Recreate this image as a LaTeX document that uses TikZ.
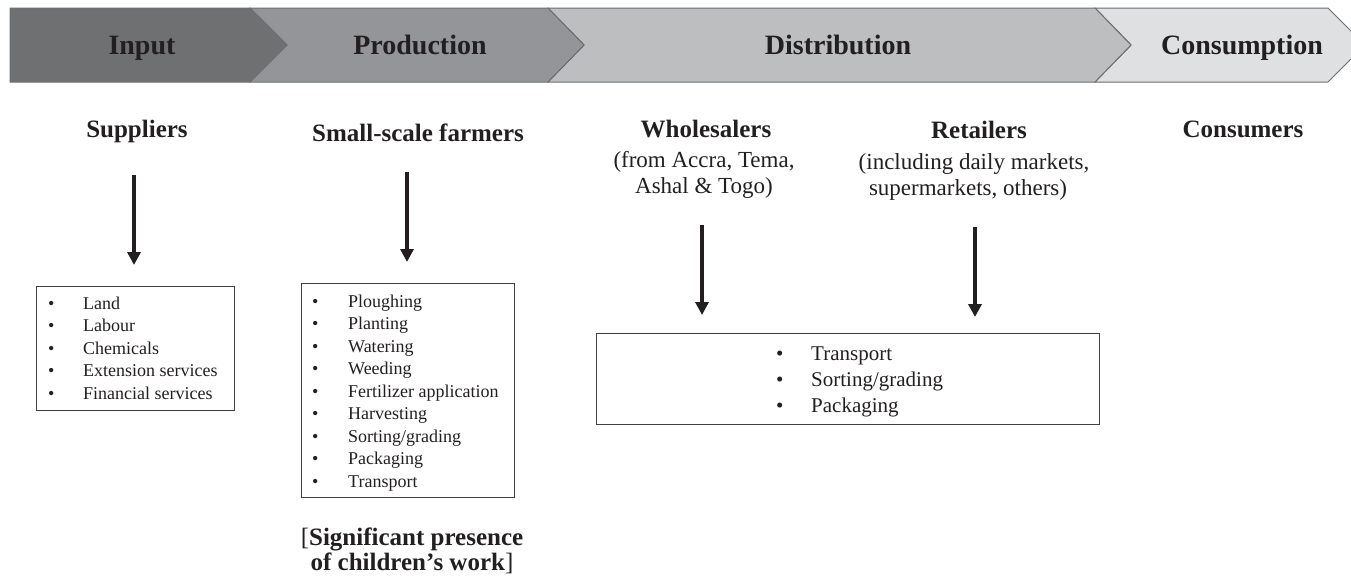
\documentclass[tikz,border=0pt]{standalone}
\usepackage{fontspec}
\setmainfont{Liberation Serif}
\usetikzlibrary{arrows.meta}
\definecolor{txt}{HTML}{231F20}
\definecolor{cin}{HTML}{6F7072}
\definecolor{cprod}{HTML}{939598}
\definecolor{cdist}{HTML}{BCBEC0}
\definecolor{ccons}{HTML}{DFE0E1}
\definecolor{edge}{HTML}{6D6E71}
\begin{document}
\begin{tikzpicture}[x=1pt,y=-1pt,
  chev/.style={draw=edge, line width=1pt, line join=miter},
  bann/.style={font=\fontsize{28}{32}\selectfont\bfseries, text=txt, anchor=base, inner sep=0pt},
  head/.style={font=\fontsize{25}{30}\selectfont\bfseries, text=txt, anchor=base, inner sep=0pt},
  sub/.style={font=\fontsize{23}{27}\selectfont, text=txt, anchor=base, inner sep=0pt},
  listbox/.style={draw=black!75, line width=1.2pt, anchor=north west, inner sep=0pt},
  listtxt/.style={anchor=base west, inner sep=0pt, text=txt},
  arr/.style={-{Triangle[width=13pt,length=13pt]}, line width=3.5pt, draw=txt},
]
\useasboundingbox (0,0) rectangle (1351,579);
% banner
\begin{scope}
\clip (0,0) rectangle (1351,579);
\filldraw[chev, fill=ccons] (1095,8) -- (1328,8) -- (1365,45) -- (1328,82) -- (1095,82) -- (1131,45) -- cycle;
\end{scope}
\filldraw[chev, fill=cdist] (548,8) -- (1095,8) -- (1131,45) -- (1095,82) -- (548,82) -- (584,45) -- cycle;
\filldraw[chev, fill=cprod] (250,8) -- (548,8) -- (584,45) -- (548,82) -- (250,82) -- (287,45) -- cycle;
\filldraw[chev, fill=cin] (10,8) -- (250,8) -- (287,45) -- (250,82) -- (10,82) -- cycle;
\node[bann] (tin) at (142,54) {Input};
\node[bann] (tprod) at (420,54) {Production};
\node[bann] (tdist) at (838,54) {Distribution};
\node[bann] (tcons) at (1242,54) {Consumption};
% headers
\node[head] (sup) at (137,137) {Suppliers};
\node[head] (farm) at (418,141) {Small-scale farmers};
\node[head] (whl) at (706,137) {Wholesalers};
\node[sub] (whl1) at (704,167) {(from Accra, Tema,};
\node[sub] (whl2) at (704,193) {Ashal \& Togo)};
\node[head] (ret) at (979,138) {Retailers};
\node[sub] (ret1) at (974,169) {(including daily markets,};
\node[sub] (ret2) at (968,195) {supermarkets, others)};
\node[head] (con) at (1243,137) {Consumers};
% boxes
\node[listbox, minimum width=198pt, minimum height=124pt] (supbox) at (36,286) {};
\node[listtxt] (suplist) at (48,309) {\fontsize{18}{22.5}\selectfont
  \begin{tabular}[t]{@{}p{35pt}@{}l@{}}
  \textbullet & Land\\ \textbullet & Labour\\ \textbullet & Chemicals\\
  \textbullet & Extension services\\ \textbullet & Financial services
  \end{tabular}};
\node[listbox, minimum width=213pt, minimum height=214pt] (farmbox) at (301,283) {};
\node[listtxt] (farmlist) at (312,307) {\fontsize{18}{22.5}\selectfont
  \begin{tabular}[t]{@{}p{36pt}@{}l@{}}
  \textbullet & Ploughing\\ \textbullet & Planting\\ \textbullet & Watering\\
  \textbullet & Weeding\\ \textbullet & Fertilizer application\\ \textbullet & Harvesting\\
  \textbullet & Sorting/grading\\ \textbullet & Packaging\\ \textbullet & Transport
  \end{tabular}};
\node[listbox, minimum width=503pt, minimum height=91pt] (distbox) at (596,333) {};
\node[listtxt] (distlist) at (776,360) {\fontsize{21}{26}\selectfont
  \begin{tabular}[t]{@{}p{35pt}@{}l@{}}
  \textbullet & Transport\\ \textbullet & Sorting/grading\\ \textbullet & Packaging
  \end{tabular}};
\node[head] (note1) at (412,545) {{\mdseries[}Significant presence};
\node[head] (note2) at (412,570) {of children’s work{\mdseries]}};
% arrows
\coordinate (a1s) at (134,175); \coordinate (a1e) at (134,265);
\coordinate (a2s) at (407,172); \coordinate (a2e) at (407,262);
\coordinate (a3s) at (702,225); \coordinate (a3e) at (702,315);
\coordinate (a4s) at (975,227); \coordinate (a4e) at (975,317);
\draw[arr] (a1s) -- (a1e);
\draw[arr] (a2s) -- (a2e);
\draw[arr] (a3s) -- (a3e);
\draw[arr] (a4s) -- (a4e);
\end{tikzpicture}
\end{document}
